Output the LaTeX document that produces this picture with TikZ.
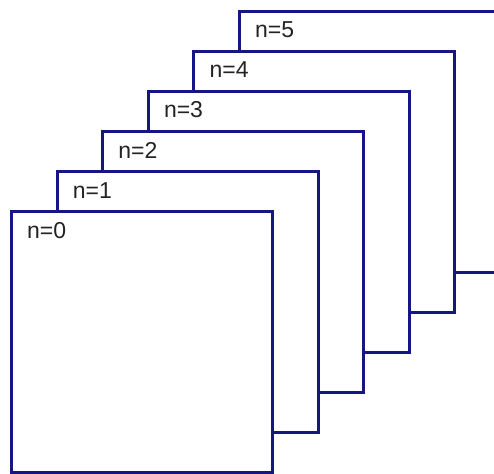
\documentclass[tikz,border=0pt]{standalone}
\usepackage{fontspec}
\setmainfont{Liberation Sans}
\definecolor{navyline}{RGB}{22,22,130}
\definecolor{txt}{RGB}{35,35,35}
\begin{document}
\begin{tikzpicture}[x=1pt,y=-1pt,
  sq/.style={draw=navyline, line width=3pt, fill=white, minimum width=261pt, minimum height=261pt, inner sep=0pt, anchor=north west},
  lbl/.style={text=txt, font=\fontsize{23}{26}\selectfont, inner sep=0pt, anchor=base west}]
\useasboundingbox (0,0) rectangle (494,473);
\clip (0,0) rectangle (494,473);
\foreach \n in {5,4,3,2,1,0}{
  \node[sq] (s\n) at ({10+45.6*\n},{210-40*\n}) {};
  \node[lbl] (l\n) at ([xshift=17pt,yshift=-28pt]s\n.north west) {n=\n};
}
\end{tikzpicture}
\end{document}
